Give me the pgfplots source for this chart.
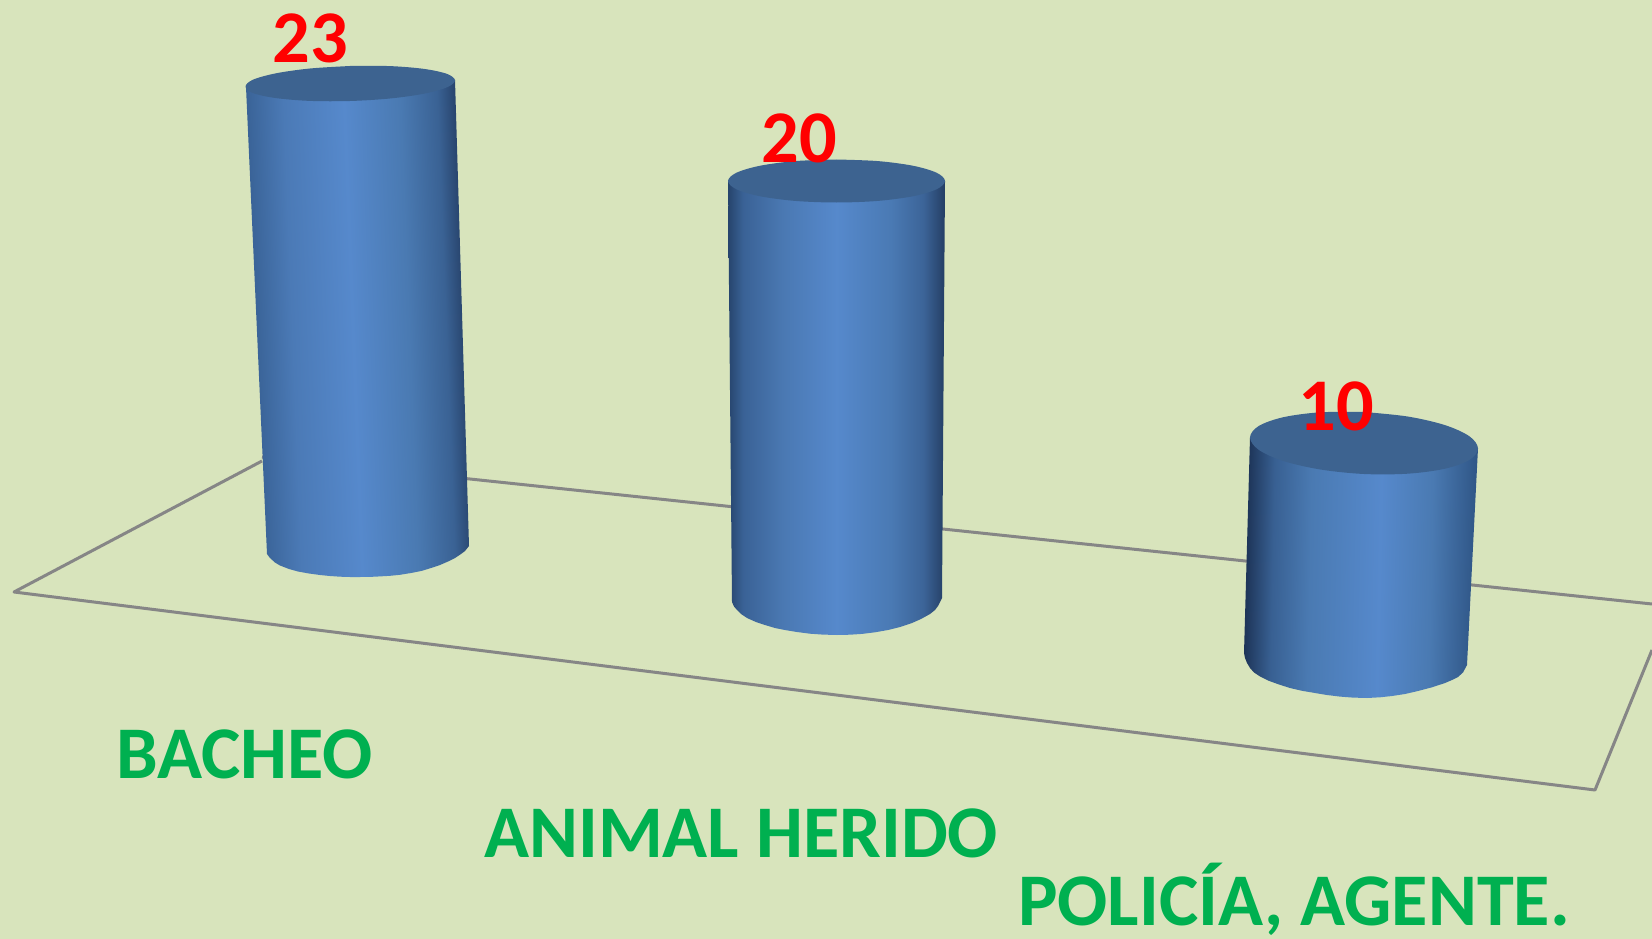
\documentclass[border=0pt]{standalone}
\usepackage{pgfplots}
\usepackage{fontspec}
\setmainfont{Carlito}
\pgfplotsset{compat=1.18}
\definecolor{bg}{RGB}{216,228,188}
\definecolor{floorline}{RGB}{134,134,134}
\definecolor{captop}{RGB}{61,99,144}
\definecolor{lblgreen}{RGB}{0,176,80}
\pgfdeclarehorizontalshading{cylA}{100bp}{
 rgb(0bp)=(0.196,0.345,0.541);
 rgb(25bp)=(0.196,0.345,0.541);
 rgb(29bp)=(0.235,0.400,0.608);
 rgb(36bp)=(0.294,0.478,0.714);
 rgb(49bp)=(0.337,0.537,0.800);
 rgb(61bp)=(0.290,0.478,0.698);
 rgb(69bp)=(0.227,0.384,0.580);
 rgb(75bp)=(0.118,0.204,0.345);
 rgb(100bp)=(0.118,0.204,0.345)}
\pgfdeclarehorizontalshading{cylB}{100bp}{
 rgb(0bp)=(0.149,0.267,0.424);
 rgb(25bp)=(0.149,0.267,0.424);
 rgb(28.5bp)=(0.227,0.384,0.588);
 rgb(37.5bp)=(0.290,0.471,0.698);
 rgb(50bp)=(0.337,0.537,0.800);
 rgb(62.5bp)=(0.290,0.478,0.706);
 rgb(70bp)=(0.235,0.392,0.596);
 rgb(75bp)=(0.141,0.243,0.392);
 rgb(100bp)=(0.141,0.243,0.392)}
\pgfdeclarehorizontalshading{cylC}{100bp}{
 rgb(0bp)=(0.110,0.196,0.333);
 rgb(25bp)=(0.110,0.196,0.333);
 rgb(31bp)=(0.220,0.376,0.573);
 rgb(39bp)=(0.290,0.478,0.698);
 rgb(54bp)=(0.337,0.537,0.800);
 rgb(65bp)=(0.290,0.478,0.698);
 rgb(75bp)=(0.180,0.329,0.518);
 rgb(100bp)=(0.180,0.329,0.518)}
\newcommand{\bigfont}{\fontsize{74.3pt}{75pt}\selectfont\bfseries}
\begin{document}
\begin{tikzpicture}
\useasboundingbox (0,0) rectangle (1652pt,939pt);
\begin{axis}[
  at={(0pt,0pt)}, anchor=south west,
  scale only axis, width=1652pt, height=939pt,
  xmin=0, xmax=1652, ymin=0, ymax=939, y dir=reverse,
  hide axis, clip=true,
]
% background
\addplot[fill=bg, draw=none] coordinates {(0,0) (1652,0) (1652,939) (0,939) (0,0)};
% floor
\addplot[floorline, line width=3pt, line join=round] coordinates {(262,461) (14,592) (1595,790) (1652,650)};
\addplot[floorline, line width=3pt] coordinates {(262,457) (1652,604)};
% cylinder bodies
\addplot[draw=none, shade, shading=cylA, shading angle=2.2] coordinates {
 (246,87) (267,554) (270,558) (275,562.5) (280,565.5) (289,569) (298,571.5) (309,573.5) (320,575) (330,576) (340,576.7) (350,577) (360,577) (370,576.9) (380,576.4) (390,575.8) (400,574.8)
 (411,573) (422,570.8) (431,568) (440,565) (448,561.5) (455,558) (461,554) (465,551) (469,546) (455,80) (350,85) (246,87)};
\addplot[draw=none, shade, shading=cylB] coordinates {
 (728,180) (732,602) (734,606.5) (737,610) (741,614) (747,618) (756,622) (765,625) (775,628) (785,630) (797,632) (810,633.7) (823,634.6) (837,635) (850,634.7) (862,633.9) (875,632.3) (888,630)
 (900,627) (912,623) (921,619) (930,614) (935,610) (938,606) (942,598) (945,181) (840,185) (728,180)};
\addplot[draw=none, shade, shading=cylC, shading angle=-1.2] coordinates {
 (1250,437) (1244,653) (1245,658) (1247,663) (1250,668) (1254,672.5) (1260,676.5) (1268,680.5) (1279,684.5) (1290,688) (1302,690.8) (1315,693) (1327,695) (1340,696.6) (1353,697.6) (1367,698)
 (1380,697.3) (1392,696) (1405,694) (1418,691) (1432,687.3) (1445,683) (1452,680) (1458,677) (1463,672.5) (1467,665) (1478,448) (1360,450) (1250,437)};
% cylinder tops
\addplot[fill=captop, draw=none, smooth, tension=0.55] coordinates {
 (350,66) (390,66.1) (424,68.9) (447,73.9) (455,80.4) (447,87.3) (424,93.7) (390,98.5) (350,101) (310,100.9)
 (276,98.1) (253,93.1) (245.5,86.6) (253,79.7) (276,73.3) (310,68.5) (350,66)};
\addplot[fill=captop, draw=none, smooth, tension=0.55] coordinates {
 (836.5,159.5) (878,161.1) (913.2,165.8) (936.7,172.8) (945,181) (936.7,189.2) (913.2,196.2) (878,200.9) (836.5,202.5)
 (795,200.9) (759.8,196.2) (736.3,189.2) (728,181) (736.3,172.8) (759.8,165.8) (795,161.1) (836.5,159.5)};
\addplot[fill=captop, draw=none, smooth, tension=0.55] coordinates {
 (1364,412) (1407.6,416.5) (1444.6,425) (1469.3,436.2) (1478,448.5) (1469.3,460) (1444.6,468.8) (1407.6,473.7) (1364,474)
 (1320.4,469.5) (1283.4,461) (1258.7,449.8) (1250,437.5) (1258.7,426) (1283.4,417.2) (1320.4,412.3) (1364,412)};
% value labels
\addplot[draw=none, mark=none, point meta=explicit symbolic,
  nodes near coords,
  every node near coord/.style={anchor=base, inner sep=0pt, text=red, font=\bigfont}]
  coordinates {(310.5,63) [23] (799,162) [20] (1336,430) [10]};
% category labels
\node[anchor=base west, inner sep=0pt, text=lblgreen, font=\bigfont] at (axis cs:116,778) {BACHEO};
\node[anchor=base west, inner sep=0pt, text=lblgreen, font=\bigfont] at (axis cs:484,857) {ANIMAL HERIDO};
\node[anchor=base west, inner sep=0pt, text=lblgreen, font=\bigfont] at (axis cs:1018,925) {POLICÍA, AGENTE.};
\end{axis}
\end{tikzpicture}
\end{document}
